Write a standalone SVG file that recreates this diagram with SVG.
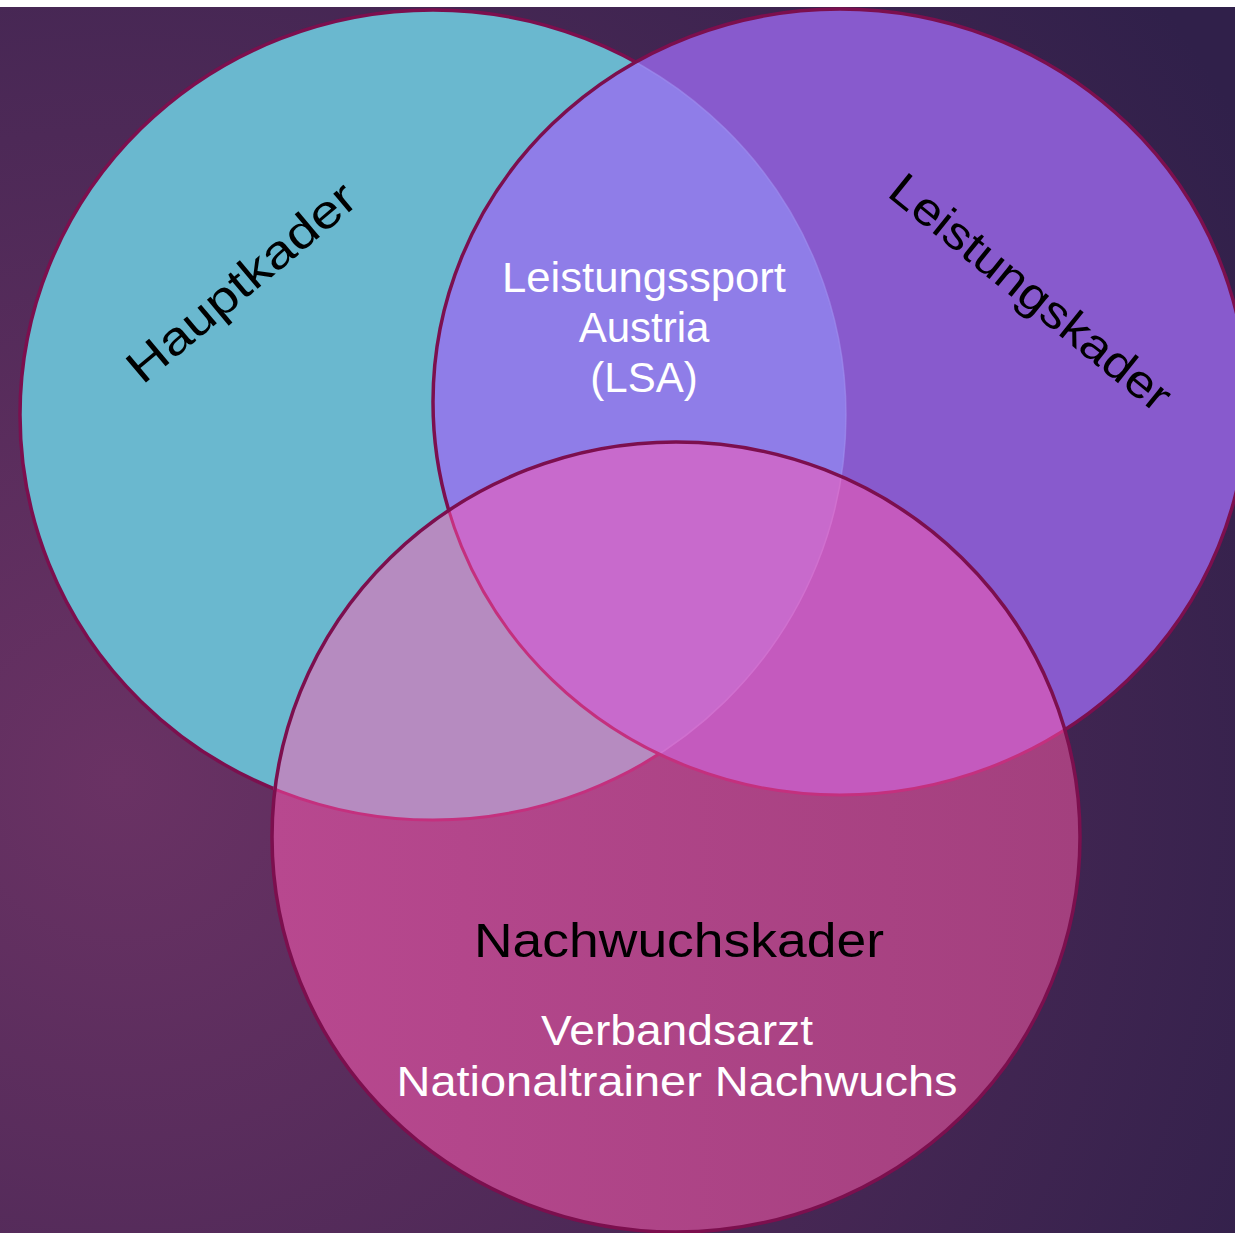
<svg xmlns="http://www.w3.org/2000/svg" width="1235" height="1233" viewBox="0 0 1235 1233">
<style>
.dark{fill:none;stroke:#7c0f4e;stroke-width:3.5}
.pink{fill:none;stroke:#c4307e;stroke-width:3}
.faint{fill:none;stroke:#a08ff0;stroke-width:1.5;opacity:0.6}
.lbl{font-family:"Liberation Sans",Arial,sans-serif;text-anchor:middle}
.blk{fill:#000}
.wht{fill:#fff}
</style>
<defs>
<radialGradient id="bg" gradientUnits="userSpaceOnUse" cx="120" cy="780" r="1300">
<stop offset="0" stop-color="#6a3264"/>
<stop offset="1" stop-color="#30204a"/>
</radialGradient>
<linearGradient id="pinkFill" gradientUnits="userSpaceOnUse" x1="272" y1="0" x2="1080" y2="0">
<stop offset="0" stop-color="#b8488f"/>
<stop offset="1" stop-color="#a3407e"/>
</linearGradient>
<clipPath id="cB"><ellipse cx="840" cy="402" rx="407" ry="393"/></clipPath>
<clipPath id="cC"><ellipse cx="676" cy="837" rx="404" ry="395"/></clipPath>
<clipPath id="cBC"><ellipse cx="840" cy="402" rx="407" ry="393" clip-path="url(#cC)"/></clipPath>
<mask id="mCnotB" maskUnits="userSpaceOnUse" x="0" y="0" width="1235" height="1233">
<ellipse cx="676" cy="837" rx="406" ry="397" fill="#fff"/>
<ellipse cx="840" cy="402" rx="407" ry="393" fill="#000"/>
</mask>
</defs>
<rect width="1235" height="1233" fill="#fff"/>
<rect y="7" width="1235" height="1226" fill="url(#bg)"/>

<g id="hauptkader">
<ellipse cx="433" cy="415" rx="413" ry="405" fill="#6ab8cf"/>
<ellipse class="dark" cx="433" cy="415" rx="413" ry="405"/>
</g>

<g id="leistungskader">
<ellipse cx="840" cy="402" rx="407" ry="393" fill="#885acd"/>
<ellipse cx="433" cy="415" rx="413" ry="405" fill="#8f7de8" clip-path="url(#cB)"/>
<ellipse class="faint" cx="433" cy="415" rx="413" ry="405" clip-path="url(#cB)"/>
<ellipse class="dark" cx="840" cy="402" rx="407" ry="393"/>
</g>

<g id="nachwuchskader">
<ellipse cx="676" cy="837" rx="404" ry="395" fill="url(#pinkFill)"/>
<ellipse cx="433" cy="415" rx="413" ry="405" fill="#b68bc0" clip-path="url(#cC)"/>
<ellipse cx="840" cy="402" rx="407" ry="393" fill="#c45abe" clip-path="url(#cC)"/>
<ellipse cx="433" cy="415" rx="413" ry="405" fill="#c86acc" clip-path="url(#cBC)"/>
<ellipse class="pink" cx="433" cy="415" rx="413" ry="405" mask="url(#mCnotB)"/>
<ellipse cx="433" cy="415" rx="413" ry="405" fill="none" stroke="#d070cf" stroke-width="1.5" clip-path="url(#cBC)"/>
<ellipse class="pink" cx="840" cy="402" rx="407" ry="393" clip-path="url(#cC)"/>
<ellipse class="dark" cx="676" cy="837" rx="404" ry="395"/>
</g>

<g id="connectors"></g>

<g id="labels">
<text class="lbl blk" font-size="46" transform="translate(241,282) rotate(-40)" y="16" textLength="284" lengthAdjust="spacingAndGlyphs">Hauptkader</text>
<text class="lbl blk" font-size="46" transform="translate(1031,292) rotate(39)" y="16" textLength="348" lengthAdjust="spacingAndGlyphs">Leistungskader</text>
<text class="lbl wht" font-size="42" x="644" y="292" textLength="284" lengthAdjust="spacingAndGlyphs">Leistungssport</text>
<text class="lbl wht" font-size="42" x="644" y="342">Austria</text>
<text class="lbl wht" font-size="42" x="644" y="392">(LSA)</text>
<text class="lbl blk" font-size="49" x="679" y="957" textLength="410" lengthAdjust="spacingAndGlyphs">Nachwuchskader</text>
<text class="lbl wht" font-size="43" x="677" y="1045" textLength="272" lengthAdjust="spacingAndGlyphs">Verbandsarzt</text>
<text class="lbl wht" font-size="43" x="677" y="1096" textLength="561" lengthAdjust="spacingAndGlyphs">Nationaltrainer Nachwuchs</text>
</g>
</svg>
